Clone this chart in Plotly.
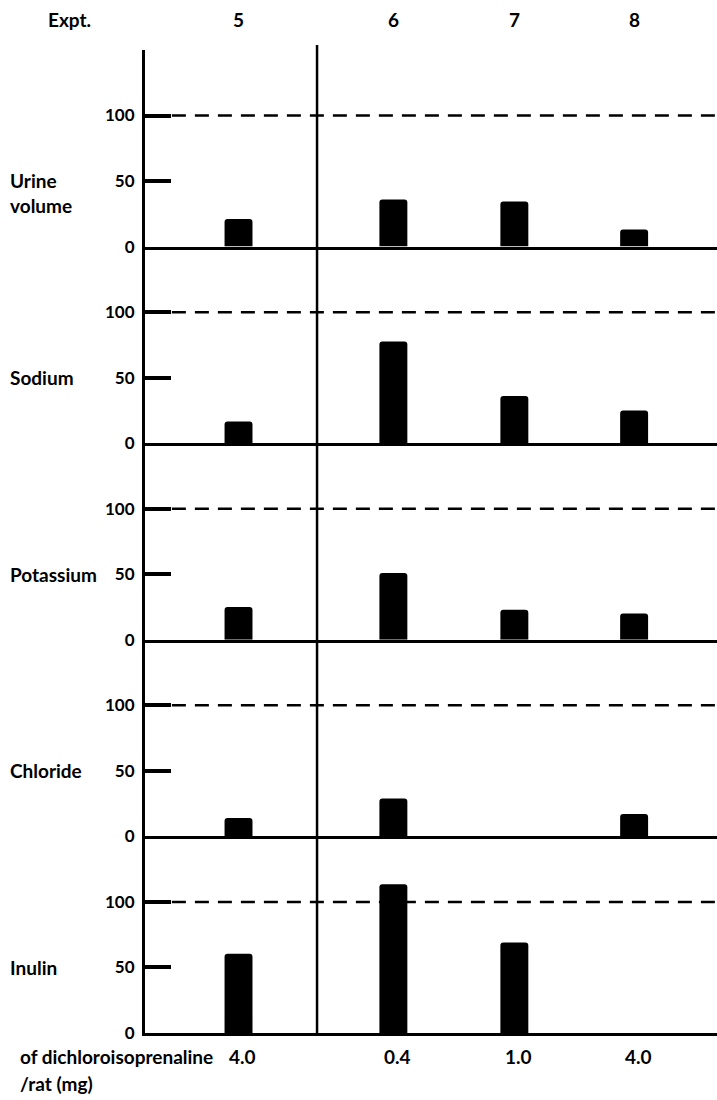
import plotly.graph_objects as go
from plotly.subplots import make_subplots

# ---- data ----
expts = ["5", "6", "7", "8"]
doses = ["4.0", "0.4", "1.0", "4.0"]
panel_names = ["Urine<br>volume", "Sodium", "Potassium", "Chloride", "Inulin"]
urine_volume = [21, 36, 34.5, 13]
sodium = [16.5, 77.5, 36, 25]
potassium = [25, 51, 23, 20]
chloride = [14, 29, None, 17]
inulin = [60.5, 113.5, 69, None]
y_ticks = [0, 50, 100]
reference_level = 100

series = [urine_volume, sodium, potassium, chloride, inulin]

# ---- layout constants ----
xpos = [0.0, 1.28, 2.28, 3.27]       # slot positions of the experiments
x_range = [-0.773, 3.955]
divider_x = 0.649
W, H = 717, 1100
ML, MR, MT, MB = 145, 0, 50, 67
PW, PH = W - ML - MR, H - MT - MB
FONT = "Lato"
fs = 19
tfs = 17


def px_x(p):
    return (p - ML) / PW


def px_y(p):
    return (H - MB - p) / PH


fig = make_subplots(rows=5, cols=1, shared_xaxes=True, vertical_spacing=0)

for i, vals in enumerate(series, start=1):
    fig.add_trace(go.Bar(x=xpos, y=vals, width=0.231, marker=dict(color="black", line=dict(width=0)),
                         showlegend=False, hoverinfo="skip"), row=i, col=1)
    fig.update_yaxes(range=[0, 150], tickvals=y_ticks, ticktext=[str(t) for t in y_ticks],
                     ticks="inside", ticklen=26, tickwidth=3.5, tickcolor="black",
                     showline=True, linewidth=3, linecolor="black", showgrid=False, zeroline=False,
                     tickfont=dict(family=FONT, size=tfs, color="black", weight="bold"),
                     ticklabelstandoff=4, row=i, col=1)
    fig.update_xaxes(range=x_range, showline=True, linewidth=3, linecolor="black", showgrid=False,
                     zeroline=False, showticklabels=False, ticks="", row=i, col=1)
    yref = "y" if i == 1 else f"y{i}"
    fig.add_shape(type="line", xref="paper", yref=yref, x0=0.047, x1=1.0,
                  y0=reference_level, y1=reference_level,
                  line=dict(color="black", width=2.5, dash="14px,9px"))
    name = panel_names[i - 1]
    two_line = "<br>" in name
    fig.add_annotation(xref="paper", yref=yref, x=px_x(8), y=61 if two_line else 50,
                       yanchor="top" if two_line else "middle", xanchor="left", align="left",
                       text=name, showarrow=False,
                       font=dict(family=FONT, size=fs, color="black", weight="bold"))

# divider between expt 5 and the rest
fig.add_shape(type="line", xref="x", yref="paper", x0=divider_x, x1=divider_x, y0=0, y1=px_y(45),
              line=dict(color="black", width=2.5))

# top labels
fig.add_annotation(xref="paper", yref="paper", x=px_x(69), y=px_y(19), yanchor="middle",
                   xanchor="center", text="Expt.", showarrow=False,
                   font=dict(family=FONT, size=fs, color="black", weight="bold"))
for xp, e in zip(xpos, expts):
    fig.add_annotation(xref="x", yref="paper", x=xp, y=px_y(19), yanchor="middle", xanchor="center",
                       text=e, showarrow=False,
                       font=dict(family=FONT, size=fs, color="black", weight="bold"))

# bottom labels
for xp, d in zip(xpos, doses):
    fig.add_annotation(xref="x5", yref="paper", x=xp, y=px_y(1056), yanchor="middle", xanchor="center",
                       text=d, showarrow=False, xshift=4,
                       font=dict(family=FONT, size=fs, color="black", weight="bold"))
fig.add_annotation(xref="paper", yref="paper", x=px_x(215), y=px_y(1056), yanchor="middle",
                   xanchor="right", text="of dichloroisoprenaline", showarrow=False,
                   font=dict(family=FONT, size=fs, color="black", weight="bold"))
fig.add_annotation(xref="paper", yref="paper", x=px_x(18), y=px_y(1083), yanchor="middle",
                   xanchor="left", text="/rat (mg)", showarrow=False,
                   font=dict(family=FONT, size=fs, color="black", weight="bold"))

fig.update_layout(width=W, height=H, margin=dict(l=ML, r=MR, t=MT, b=MB),
                  plot_bgcolor="white", paper_bgcolor="white", barcornerradius=3,
                  font=dict(family=FONT, size=fs, color="black"))

fig.write_html("out.html", config={"displayModeBar": False},
               post_script="document.body.style.margin='0';")
